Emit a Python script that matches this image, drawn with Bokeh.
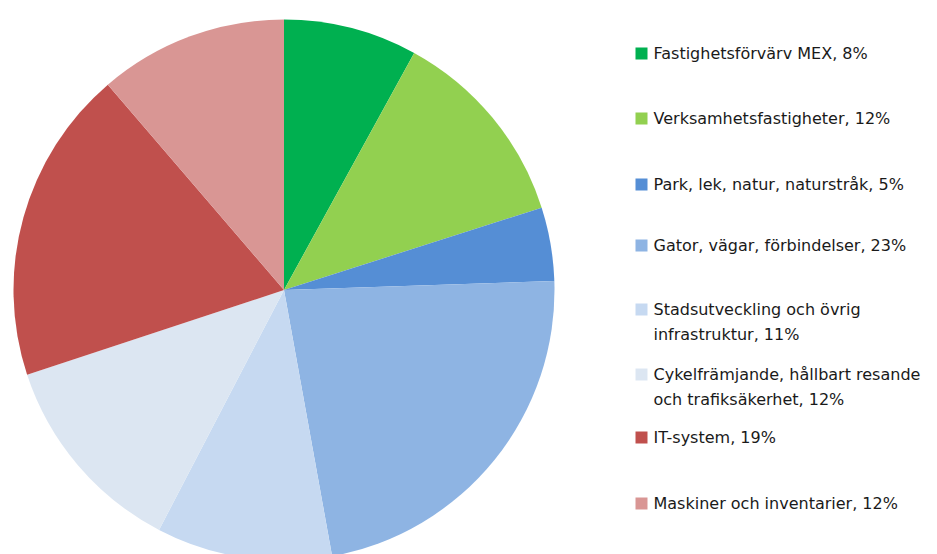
import math
from bokeh.plotting import figure
from bokeh.models import Range1d, ColumnDataSource
from bokeh.core.properties import value
from bokeh.embed import file_html
from bokeh.resources import INLINE

# Data
categories = [
    "Fastighetsförvärv MEX, 8%",
    "Verksamhetsfastigheter, 12%",
    "Park, lek, natur, naturstråk, 5%",
    "Gator, vägar, förbindelser, 23%",
    "Stadsutveckling och övrig\ninfrastruktur, 11%",
    "Cykelfrämjande, hållbart resande\noch trafiksäkerhet, 12%",
    "IT-system, 19%",
    "Maskiner och inventarier, 12%",
]
shares = [8.0, 12.1, 4.4, 22.7, 10.5, 12.3, 18.8, 11.3]
colors = ["#00B050", "#92D050", "#558ED5", "#8EB4E3", "#C6D9F1", "#DCE6F2", "#C0504D", "#D99694"]

W, H = 937, 554
p = figure(width=W, height=H, output_backend="svg", toolbar_location=None,
           x_range=Range1d(0, W), y_range=Range1d(0, H), min_border=0)
p.axis.visible = False
p.grid.visible = False
p.outline_line_color = None

# Pie layout
cx, cy, r = 283.5, H - 289.5, 270.5
total = sum(shares)
starts, ends = [], []
acc = 0.0
for s in shares:
    starts.append(math.pi / 2 - 2 * math.pi * acc / total)
    acc += s
    ends.append(math.pi / 2 - 2 * math.pi * acc / total)

src = ColumnDataSource(dict(start=starts, end=ends, color=colors, cat=categories))
p.wedge(x=cx, y=cy, radius=r, start_angle="start", end_angle="end", direction="clock",
        fill_color="color", line_color=None, source=src)

# Legend (manual layout)
legend_y = [53, 118, 184, 245, 309, 374, 437, 503]
line_gap = 25
sq_x, txt_x = 641, 653
lx, ly, lc = [], [], []
tx, ty, tt = [], [], []
for cat, col, y in zip(categories, colors, legend_y):
    lx.append(sq_x)
    ly.append(H - y)
    lc.append(col)
    for i, line in enumerate(cat.split("\n")):
        tx.append(txt_x)
        ty.append(H - (y + i * line_gap))
        tt.append(line)
p.rect(x=lx, y=ly, width=12, height=12, fill_color=lc, line_color=None)
p.text(x=tx, y=ty, text=tt, text_font=value("DejaVu Sans"), text_font_size="16px",
       text_color="#1a1a1a", text_baseline="middle", text_align="left")

open("out.html", "w").write(file_html(p, INLINE))
